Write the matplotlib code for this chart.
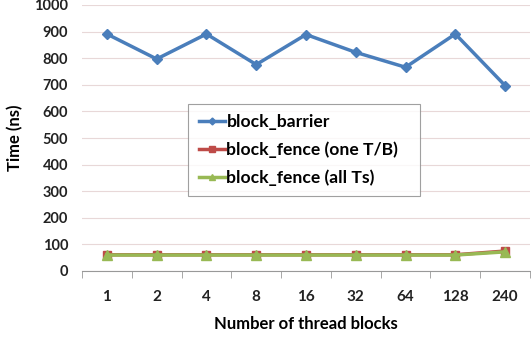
import matplotlib
matplotlib.use("Agg")
import matplotlib.pyplot as plt
import numpy as np

categories = ["1", "2", "4", "8", "16", "32", "64", "128", "240"]
block_barrier = [891, 797, 891, 776, 889, 822, 766, 891, 697]
block_fence_one = [61, 61, 61, 61, 61, 61, 61, 61, 75]
block_fence_all = [60, 60, 60, 60, 60, 60, 60, 60, 72]

plt.rcParams['font.family'] = ['Lato', 'DejaVu Sans']
plt.rcParams['font.weight'] = 'bold'

fig = plt.figure(figsize=(5.31, 3.46), dpi=100)
ax = fig.add_axes([82/531, 1-271/346, 448/531, 266/346])

x = np.arange(len(categories))
ax.plot(x, block_barrier, color='#4a7ebb', lw=2.5, marker='D', ms=5, label='block_barrier')
ax.plot(x, block_fence_one, color='#be4b48', lw=2.5, marker='s', ms=6, label='block_fence (one T/B)')
ax.plot(x, block_fence_all, color='#98b954', lw=2.5, marker='^', ms=7, label='block_fence (all Ts)')

ax.set_xlim(-0.5, len(categories) - 0.5)
ax.set_ylim(0, 1000)
ax.set_yticks(np.arange(0, 1001, 100))
ax.set_xticks(x)
ax.set_xticklabels(categories)
ax.set_xticks(np.arange(-0.5, len(categories), 1), minor=True)
ax.tick_params(axis='x', which='major', length=0, pad=14, labelsize=11, colors='#222222')
ax.tick_params(axis='x', which='minor', length=5, color='#999999', direction='out')
ax.tick_params(axis='y', length=0, pad=10, labelsize=10.5, colors='#222222')
ax.grid(axis='y', color='#e8d8d8', lw=0.8)
ax.set_axisbelow(True)
for s in ['top', 'right', 'left']:
    ax.spines[s].set_visible(False)
ax.spines['bottom'].set_color('#999999')

ax.set_xlabel('Number of thread blocks', fontsize=12, fontweight='bold', labelpad=8)
ax.set_ylabel('Time (ns)', fontsize=12, fontweight='bold', labelpad=8)

leg = fig.legend(loc='upper left', bbox_to_anchor=(188/531, 1-107/346, 232/531, 0.01),
                 mode='expand', fontsize=12.6,
                 frameon=True, fancybox=False, edgecolor='#888888', handlelength=1.5,
                 handletextpad=0.1, borderpad=0.6, labelspacing=0.65, markerscale=0.7,
                 borderaxespad=0)
leg.get_frame().set_linewidth(0.8)
for t in leg.get_texts():
    t.set_fontweight('bold')

fig.savefig('out.png', dpi=100)
